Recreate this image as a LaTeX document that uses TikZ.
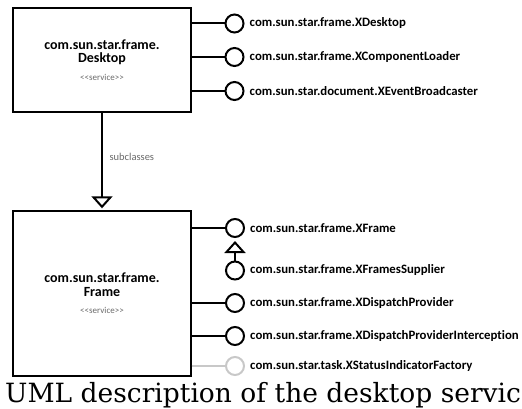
\documentclass[tikz,border=0pt]{standalone}
\usepackage{fontspec}
\setmainfont{DejaVu Serif}
\newfontfamily\umlfont[Ligatures=NoCommon]{Carlito}
\usetikzlibrary{positioning,arrows.meta}
\definecolor{tagcolor}{RGB}{105,105,105}
\definecolor{faintcolor}{RGB}{200,200,200}
\newcommand{\servicetag}{{\mdseries\fontsize{9}{10}\selectfont\color{tagcolor}<{}<service>{}>}}

\begin{document}
\begin{tikzpicture}[x=1pt,y=-1pt,
  servicebox/.style={draw,line width=1.4pt,minimum width=178pt,align=center,
    inner sep=0pt,font=\umlfont\bfseries\fontsize{14}{13.5}\selectfont},
  iface/.style={draw,circle,line width=2pt,minimum size=18pt,inner sep=0pt,fill=white},
  ifname/.style={anchor=west,inner sep=0pt,font=\umlfont\bfseries\fontsize{12.8}{12}\selectfont},
  wire/.style={line width=2pt},
  tag/.style={font=\umlfont\fontsize{10.5}{12}\selectfont,text=tagcolor},
  inherits/.style={line width=2pt,-{Triangle[open,length=12pt,width=21pt,line width=2pt]}}]
\useasboundingbox (0,0) rectangle (522,409);

% the two services
\node[servicebox,minimum height=104pt] (desktop) at (102,60)
  {com.sun.star.frame.\\Desktop\\[4pt]\servicetag};
\node[servicebox,minimum height=165pt] (frame) at (102,293.5)
  {com.sun.star.frame.\\Frame\\[4pt]\servicetag};

% interfaces of the desktop
\node[iface] (xdesktop) at (234.5,23.5) {};
\node[iface] (xloader) at (234.5,57) {};
\node[iface] (xbroadcaster) at (234.5,91) {};
\node[ifname,right=5pt of xdesktop] (xdesktoplbl) {com.sun.star.frame.XDesktop};
\node[ifname,right=5pt of xloader] (xloaderlbl) {com.sun.star.frame.XComponentLoader};
\node[ifname,right=5pt of xbroadcaster] (xbroadcasterlbl) {com.sun.star.document.XEventBroadcaster};
\draw[wire] (desktop.east |- xdesktop) -- (xdesktop);
\draw[wire] (desktop.east |- xloader) -- (xloader);
\draw[wire] (desktop.east |- xbroadcaster) -- (xbroadcaster);

% interfaces of the frame
\node[iface] (xframe) at (235,228) {};
\node[iface] (xsupplier) at (235,270.5) {};
\node[iface] (xdispatch) at (235,303) {};
\node[iface] (xintercept) at (235,336) {};
\node[iface,draw=faintcolor] (xstatus) at (235,366) {};
\node[ifname,right=5pt of xframe] (xframelbl) {com.sun.star.frame.XFrame};
\node[ifname,right=5pt of xsupplier] (xsupplierlbl) {com.sun.star.frame.XFramesSupplier};
\node[ifname,right=5pt of xdispatch] (xdispatchlbl) {com.sun.star.frame.XDispatchProvider};
\node[ifname,right=5pt of xintercept] (xinterceptlbl) {com.sun.star.frame.XDispatchProviderInterception};
\node[ifname,right=5pt of xstatus] (xstatuslbl) {com.sun.star.task.XStatusIndicatorFactory};
\draw[wire] (frame.east |- xframe) -- (xframe);
\draw[wire] (frame.east |- xdispatch) -- (xdispatch);
\draw[wire] (frame.east |- xintercept) -- (xintercept);
\draw[wire,draw=faintcolor] (frame.east |- xstatus) -- (xstatus);
\draw[inherits,shorten >=3pt] (xsupplier) -- (xframe);

% generalisation
\draw[inherits,shorten >=2pt] (desktop) -- (frame);
\node[tag,anchor=west] (subcl) at (106,157) {subclasses};

% caption
\node[anchor=base west,inner sep=0pt,font=\fontsize{26.5}{26.5}\selectfont] (caption) at (5,402.5)
  {UML description of the desktop servic};
\end{tikzpicture}
\end{document}
